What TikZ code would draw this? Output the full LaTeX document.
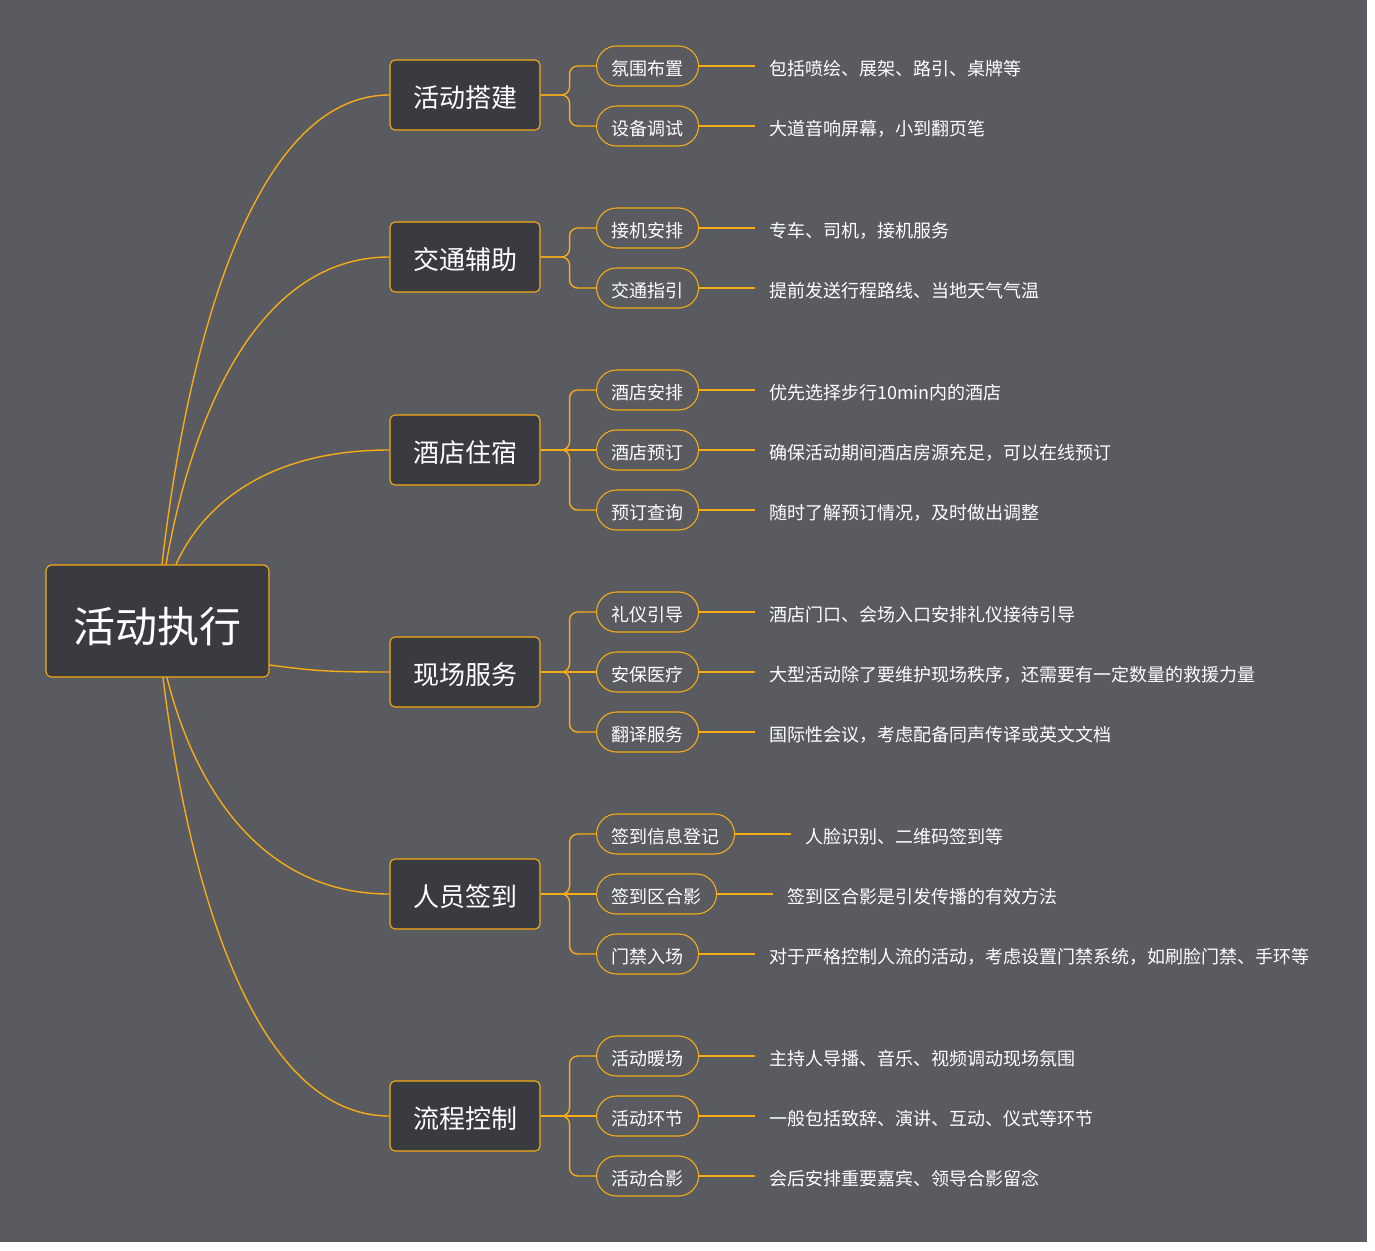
\documentclass[tikz,border=0pt]{standalone}
\usepackage{fontspec}
\setmainfont{Noto Sans CJK SC}
\definecolor{bgc}{RGB}{89,91,96}
\definecolor{boxc}{RGB}{57,59,64}
\definecolor{linec}{RGB}{245,172,22}
\tikzset{
  rootbox/.style={draw=linec, line width=1.1pt, fill=boxc, rounded corners=6pt, minimum width=223pt, minimum height=112pt, text height=48pt, text depth=5pt, text=white, font=\fontsize{42}{50}\selectfont},
  topic/.style={draw=linec, line width=1.1pt, fill=boxc, rounded corners=5pt, minimum width=150pt, minimum height=70pt, text height=27pt, text depth=3pt, text=white, font=\fontsize{26}{30}\selectfont},
  subtopic/.style={draw=linec, line width=1.1pt, fill=bgc, rounded corners=20pt, minimum height=40pt, inner xsep=15pt, text height=21pt, text depth=2pt, anchor=west, text=white, font=\fontsize{18}{22}\selectfont},
  note/.style={anchor=west, inner sep=0pt, text height=21pt, text depth=2pt, text=white, font=\fontsize{18}{22}\selectfont},
  link/.style={draw=linec, line width=1.4pt},
}
\begin{document}
\begin{tikzpicture}[x=1pt, y=-1pt]
  % canvas
  \useasboundingbox (0,0) rectangle (1375,1250);
  \fill[white] (0,0) rectangle (1375,1250);
  \fill[bgc] (0,0) rectangle (1367,1242);

  % root and main topics
  \node[rootbox] (root) at (157.5,621) {活动执行};
  \node[topic] (t1) at (465,95)  {活动搭建};
  \node[topic] (t2) at (465,257) {交通辅助};
  \node[topic] (t3) at (465,450) {酒店住宿};
  \node[topic] (t4) at (465,672) {现场服务};
  \node[topic] (t5) at (465,894) {人员签到};
  \node[topic] (t6) at (465,1116) {流程控制};

  % subtopics
  \node[subtopic] (s11) at (596,66)  {氛围布置};
  \node[subtopic] (s12) at (596,126) {设备调试};
  \node[subtopic] (s21) at (596,228) {接机安排};
  \node[subtopic] (s22) at (596,288) {交通指引};
  \node[subtopic] (s31) at (596,390) {酒店安排};
  \node[subtopic] (s32) at (596,450) {酒店预订};
  \node[subtopic] (s33) at (596,510) {预订查询};
  \node[subtopic] (s41) at (596,612) {礼仪引导};
  \node[subtopic] (s42) at (596,672) {安保医疗};
  \node[subtopic] (s43) at (596,732) {翻译服务};
  \node[subtopic] (s51) at (596,834) {签到信息登记};
  \node[subtopic] (s52) at (596,894) {签到区合影};
  \node[subtopic] (s53) at (596,954) {门禁入场};
  \node[subtopic] (s61) at (596,1056) {活动暖场};
  \node[subtopic] (s62) at (596,1116) {活动环节};
  \node[subtopic] (s63) at (596,1176) {活动合影};

  % notes
  \node[note] (n11) at ([xshift=70]s11.east) {包括喷绘、展架、路引、桌牌等};
  \node[note] (n12) at ([xshift=70]s12.east) {大道音响屏幕，小到翻页笔};
  \node[note] (n21) at ([xshift=70]s21.east) {专车、司机，接机服务};
  \node[note] (n22) at ([xshift=70]s22.east) {提前发送行程路线、当地天气气温};
  \node[note] (n31) at ([xshift=70]s31.east) {优先选择步行10min内的酒店};
  \node[note] (n32) at ([xshift=70]s32.east) {确保活动期间酒店房源充足，可以在线预订};
  \node[note] (n33) at ([xshift=70]s33.east) {随时了解预订情况，及时做出调整};
  \node[note] (n41) at ([xshift=70]s41.east) {酒店门口、会场入口安排礼仪接待引导};
  \node[note] (n42) at ([xshift=70]s42.east) {大型活动除了要维护现场秩序，还需要有一定数量的救援力量};
  \node[note] (n43) at ([xshift=70]s43.east) {国际性会议，考虑配备同声传译或英文文档};
  \node[note] (n51) at ([xshift=70]s51.east) {人脸识别、二维码签到等};
  \node[note] (n52) at ([xshift=70]s52.east) {签到区合影是引发传播的有效方法};
  \node[note] (n53) at ([xshift=70]s53.east) {对于严格控制人流的活动，考虑设置门禁系统，如刷脸门禁、手环等};
  \node[note] (n61) at ([xshift=70]s61.east) {主持人导播、音乐、视频调动现场氛围};
  \node[note] (n62) at ([xshift=70]s62.east) {一般包括致辞、演讲、互动、仪式等环节};
  \node[note] (n63) at ([xshift=70]s63.east) {会后安排重要嘉宾、领导合影留念};

  % root to topics
  \draw[link] ([xshift=4.5]root.north) .. controls +(27,-234) and +(-132,0) .. (t1.west);
  \draw[link] ([xshift=8.5]root.north) .. controls +(27,-154) and +(-130,0) .. (t2.west);
  \draw[link] ([xshift=18.5]root.north) .. controls +(26,-58) and +(-124,0) .. (t3.west);
  \draw[link] ([yshift=-44]root.east) .. controls +(45,6) and +(-60,0) .. (t4.west);
  \draw[link] ([xshift=9.5]root.south) .. controls +(27,108) and +(-129,0) .. (t5.west);
  \draw[link] ([xshift=5.5]root.south) .. controls +(27,219) and +(-132,0) .. (t6.west);

  % topics to subtopics
  \foreach \t/\s in {t1/s11, t1/s12, t2/s21, t2/s22, t3/s31, t3/s33,
                     t4/s41, t4/s43, t5/s51, t5/s53, t6/s61, t6/s63}
    \draw[link, rounded corners=8pt] (\t.east) -- ++(29,0) |- (\s.west);
  \foreach \t/\s in {t3/s32, t4/s42, t5/s52, t6/s62}
    \draw[link] (\t.east) -- (\s.west);

  % subtopics to notes
  \foreach \i in {11,12,21,22,31,32,33,41,42,43,51,52,53,61,62,63}
    \draw[link] (s\i.east) -- ([xshift=-14]n\i.west);
\end{tikzpicture}
\end{document}
